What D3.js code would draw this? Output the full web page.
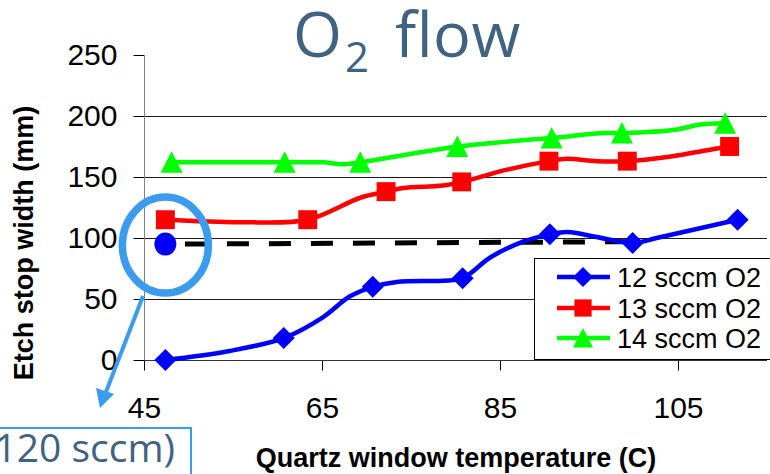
<!DOCTYPE html>
<html>
<head>
<meta charset="utf-8">
<script src="https://cdn.jsdelivr.net/npm/d3@7"></script>
<style>
  body { margin: 0; background: #fff; }
  svg { display: block; }
</style>
</head>
<body>
<svg id="chart"></svg>
<script>
'use strict'

var WIDTH = 770,
	HEIGHT = 474;

// axis ticks
var xTicks = [45, 65, 85, 105];
var yTicks = [0, 50, 100, 150, 200, 250];
var yGrid = [50, 100, 150, 200];

// 12 sccm O2 (marked points carry a diamond)
var temps12 = [47.4, 54.3, 60.7, 65.1, 68.1, 70.7, 73.4, 78.6, 80.8, 83.9, 87.6, 90.6, 92.5, 99.9, 102.6, 111.7];
var width12 = [0, 7, 18, 35, 52, 60, 64, 65, 67, 84, 97, 103, 105, 96, 100, 115];
var mark12 = [1, 0, 1, 0, 0, 1, 0, 0, 1, 0, 0, 1, 0, 1, 0, 1];

// 13 sccm O2
var temps13 = [47.4, 55.8, 63.4, 69.3, 72.2, 74.1, 78.6, 80.7, 85.8, 90.5, 92.5, 95.9, 99.3, 104.4, 108.3, 110.8];
var width13 = [115, 113, 115, 133, 138, 141, 143, 146, 156, 163, 165, 163, 163, 167, 172, 175];
var mark13 = [1, 0, 1, 0, 1, 0, 0, 1, 0, 1, 0, 0, 1, 0, 0, 1];

// 14 sccm O2
var temps14 = [48.1, 60.8, 65.1, 67.2, 69.3, 80.2, 85.8, 90.8, 96.6, 98.7, 104.9, 107.5, 110.3];
var width14 = [162, 162, 162, 160.5, 162, 175, 179, 182, 186, 186, 189, 193, 194];
var mark14 = [1, 1, 0, 0, 1, 1, 0, 1, 0, 1, 0, 0, 1];

// reference (120 sccm) point and dashed level
var refTemp = 47.4, refWidth = 95;
var refLineTemps = [49.6, 99.4];
var refLineWidths = [95, 97];

var seriesNames = ['12 sccm O2', '13 sccm O2', '14 sccm O2'];
var seriesColors = ['#0000ff', '#ff0000', '#00ff00'];
var seriesShapes = ['diamond', 'square', 'triangle'];

var titleColor = '#3f6381',
	noteBlue = '#3b9bef';

var svg = d3.select('#chart')
	.attr('width', WIDTH)
	.attr('height', HEIGHT);

var x = d3.scaleLinear().domain([45, 115]).range([144, 767]);
var y = d3.scaleLinear().domain([0, 250]).range([360, 55]);

// title
var title = svg.append('g').style('fill', titleColor).style('font-family', '"Open Sans", sans-serif');
title.append('text').attr('x', 293).attr('y', 57).style('font-size', '63px').text('O');
title.append('text').attr('x', 345).attr('y', 72).style('font-size', '42px').text('2');
title.append('text').attr('x', 395).attr('y', 57).style('font-size', '63px').style('letter-spacing', '0.5px').text('flow');

// gridlines
svg.append('g').selectAll('line')
	.data(yGrid)
	.enter().append('line')
	.attr('x1', x(45)).attr('x2', x(115))
	.attr('y1', function (d) { return Math.round(y(d)) + 0.5; })
	.attr('y2', function (d) { return Math.round(y(d)) + 0.5; })
	.style('stroke', '#1a1a1a')
	.style('stroke-width', 1);

// y axis
var yAxis = svg.append('g')
	.attr('transform', 'translate(' + (x(45) + 0.5) + ',0)')
	.call(d3.axisLeft(y).tickValues(yTicks).tickSize(11).tickPadding(16));
yAxis.select('.domain').remove();
yAxis.append('line').attr('y1', y(250)).attr('y2', y(0) + 10).style('stroke', '#808080');
yAxis.selectAll('.tick line').style('stroke', '#000');
yAxis.selectAll('text')
	.style('font-family', '"Liberation Sans", Arial, sans-serif')
	.style('font-size', '30px')
	.style('fill', '#000');

// x axis
var xAxis = svg.append('g')
	.attr('transform', 'translate(0,' + (y(0) + 0.5) + ')')
	.call(d3.axisBottom(x).tickValues(xTicks).tickSize(10).tickPadding(26));
xAxis.select('.domain').remove();
xAxis.append('line').attr('x1', x(45)).attr('x2', x(115)).style('stroke', '#333');
xAxis.selectAll('.tick line').style('stroke', '#000');
xAxis.selectAll('text')
	.style('font-family', '"Liberation Sans", Arial, sans-serif')
	.style('font-size', '30px')
	.style('fill', '#000');

// axis titles
svg.append('text')
	.attr('transform', 'translate(33,243) rotate(-90)')
	.attr('text-anchor', 'middle')
	.style('font-family', '"Liberation Sans", Arial, sans-serif')
	.style('font-weight', 'bold')
	.style('font-size', '27px')
	.text('Etch stop width (mm)');

svg.append('text')
	.attr('x', 456).attr('y', 467)
	.attr('text-anchor', 'middle')
	.style('font-family', '"Liberation Sans", Arial, sans-serif')
	.style('font-weight', 'bold')
	.style('font-size', '27px')
	.text('Quartz window temperature (C)');

// dashed reference level
svg.append('line')
	.attr('x1', x(refLineTemps[0])).attr('x2', x(refLineTemps[1]))
	.attr('y1', y(refLineWidths[0])).attr('y2', y(refLineWidths[1]))
	.style('stroke', '#000')
	.style('stroke-width', 5)
	.style('stroke-dasharray', '22,20');

// marker shapes
function marker(sel, shape, color, s) {
	if (shape === 'diamond') {
		sel.append('path').attr('d', 'M0,' + (-s) + 'L' + s + ',0L0,' + s + 'L' + (-s) + ',0Z').style('fill', color);
	} else if (shape === 'square') {
		var h = s * 0.86;
		sel.append('rect').attr('x', -h).attr('y', -h).attr('width', 2 * h).attr('height', 2 * h).style('fill', color);
	} else {
		sel.append('path').attr('d', 'M0,' + (-s) + 'L' + s + ',' + (s * 0.95) + 'L' + (-s) + ',' + (s * 0.95) + 'Z').style('fill', color);
	}
}

var seriesTemps = [temps12, temps13, temps14];
var seriesWidths = [width12, width13, width14];
var seriesMarks = [mark12, mark13, mark14];

var line = d3.line()
	.x(function (d) { return x(d[0]); })
	.y(function (d) { return y(d[1]); })
	.curve(d3.curveCatmullRom.alpha(0.5));

seriesNames.forEach(function (name, i) {
	var pts = seriesTemps[i].map(function (t, j) { return [t, seriesWidths[i][j], seriesMarks[i][j]]; });
	var g = svg.append('g');
	g.append('path')
		.attr('d', line(pts))
		.style('fill', 'none')
		.style('stroke', seriesColors[i])
		.style('stroke-width', 4.5)
		.style('stroke-linejoin', 'round');
	g.selectAll('.mk')
		.data(pts.filter(function (p) { return p[2]; }))
		.enter().append('g')
		.attr('transform', function (p) { return 'translate(' + x(p[0]) + ',' + y(p[1]) + ')'; })
		.each(function () { marker(d3.select(this), seriesShapes[i], seriesColors[i], 11); });
});

// reference dot and highlight ellipse
svg.append('ellipse')
	.attr('cx', x(refTemp)).attr('cy', y(refWidth))
	.attr('rx', 11).attr('ry', 11.5)
	.style('fill', '#0000ff');

svg.append('ellipse')
	.attr('cx', x(refTemp)).attr('cy', y(refWidth) + 1)
	.attr('rx', 43).attr('ry', 48)
	.style('fill', 'none')
	.style('stroke', noteBlue)
	.style('stroke-width', 7.5);

// arrow to note box
svg.append('line')
	.attr('x1', 143).attr('y1', 296)
	.attr('x2', 106).attr('y2', 392)
	.style('stroke', noteBlue)
	.style('stroke-width', 4);
svg.append('path')
	.attr('d', 'M100,408L96,388L114,394Z')
	.style('fill', noteBlue);

// note box (its left part runs past the picture edge)
svg.append('rect')
	.attr('x', -10).attr('y', 428)
	.attr('width', 201).attr('height', 60)
	.style('fill', '#fff')
	.style('stroke', noteBlue)
	.style('stroke-width', 2);
svg.append('text')
	.attr('x', 175).attr('y', 462)
	.attr('text-anchor', 'end')
	.style('font-family', '"Open Sans", sans-serif')
	.style('font-size', '39px')
	.style('fill', titleColor)
	.text('120 sccm)');

// legend
var legend = svg.append('g');
legend.append('rect')
	.attr('x', 534.5).attr('y', 258.5)
	.attr('width', 250).attr('height', 101)
	.style('fill', '#fff')
	.style('stroke', '#000')
	.style('stroke-width', 1);

var rowY = [277, 308, 338];
seriesNames.forEach(function (name, i) {
	var r = legend.append('g').attr('transform', 'translate(0,' + rowY[i] + ')');
	r.append('line')
		.attr('x1', 557).attr('x2', 610)
		.style('stroke', seriesColors[i])
		.style('stroke-width', 4.5);
	var m = r.append('g').attr('transform', 'translate(583,0)');
	marker(m, seriesShapes[i], seriesColors[i], 10);
	r.append('text')
		.attr('x', 617).attr('y', 0).attr('dy', '0.36em')
		.style('font-family', '"Liberation Sans", Arial, sans-serif')
		.style('font-size', '27px')
		.text(name);
});
</script>
</body>
</html>
